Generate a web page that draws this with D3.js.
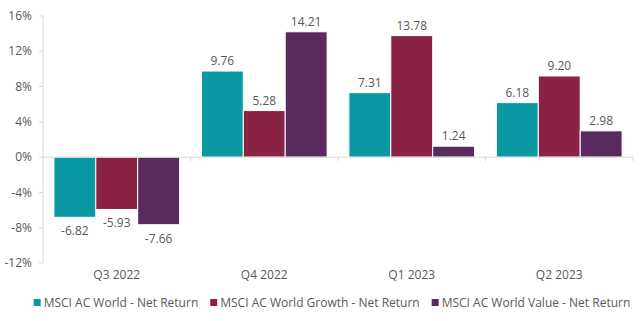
<!DOCTYPE html>
<html>
<head>
<meta charset="utf-8">
<script src="https://cdn.jsdelivr.net/npm/d3@7"></script>
<style>
  body { margin: 0; background: #fff; }
  text { font-family: "Open Sans", sans-serif; fill: #595959; }
</style>
</head>
<body>
<div id="chart"></div>
<script>
// data
const quarters = ["Q3 2022", "Q4 2022", "Q1 2023", "Q2 2023"];
const seriesNames = ["MSCI AC World - Net Return", "MSCI AC World Growth - Net Return", "MSCI AC World Value - Net Return"];
const worldValues = [-6.82, 9.76, 7.31, 6.18];
const growthValues = [-5.93, 5.28, 13.78, 9.20];
const valueValues = [-7.66, 14.21, 1.24, 2.98];
const yTicks = [-12, -8, -4, 0, 4, 8, 12, 16];

const allSeries = [worldValues, growthValues, valueValues];
const colors = ["#0a99a2", "#8a2244", "#582a5e"];

const W = 640, H = 321;
const margin = {top: 16, right: 7, bottom: 58, left: 43};
const width = W - margin.left - margin.right,
      height = H - margin.top - margin.bottom;

const svg = d3.select("#chart").append("svg")
    .attr("width", W).attr("height", H);
const g = svg.append("g")
    .attr("transform", `translate(${margin.left},${margin.top})`);

// scales
const x = d3.scaleBand().domain(quarters).range([0, width]).paddingInner(0).paddingOuter(0);
const xs = d3.scaleBand().domain(d3.range(3)).range([0, x.bandwidth()]).paddingInner(0).paddingOuter(0.26);
const y = d3.scaleLinear().domain([-12, 16]).range([height, 0]);

// y axis line + labels
g.append("line")
  .attr("x1", 0).attr("x2", 0).attr("y1", y(16)).attr("y2", y(-12))
  .attr("stroke", "#d9d9d9");
g.selectAll(".ytick").data(yTicks).join("line")
  .attr("x1", -4).attr("x2", 0)
  .attr("y1", d => y(d)).attr("y2", d => y(d))
  .attr("stroke", "#d9d9d9");
g.selectAll(".ylab").data(yTicks).join("text")
  .attr("x", -11).attr("y", d => y(d))
  .attr("dy", "0.35em")
  .attr("text-anchor", "end")
  .style("font-size", "12px")
  .text(d => d + "%");

// bars
quarters.forEach((q, qi) => {
  allSeries.forEach((s, si) => {
    const v = s[qi];
    const bx = x(q) + xs(si);
    g.append("rect")
      .attr("x", bx).attr("width", xs.bandwidth())
      .attr("y", y(Math.max(0, v)))
      .attr("height", Math.abs(y(v) - y(0)))
      .attr("fill", colors[si])
      .attr("stroke", "#fff").attr("stroke-width", 1);
    g.append("text")
      .attr("x", bx + xs.bandwidth() / 2)
      .attr("y", v >= 0 ? y(v) - 6 : y(v) + 18)
      .attr("text-anchor", "middle")
      .style("font-size", "12px")
      .text(v.toFixed(2));
  });
});

// zero line with category ticks
g.append("line")
  .attr("x1", 0).attr("x2", width).attr("y1", y(0)).attr("y2", y(0))
  .attr("stroke", "#d9d9d9");
g.selectAll(".xtick").data(quarters.slice(1).concat(["end"])).join("line")
  .attr("x1", (d, i) => x.step() * (i + 1)).attr("x2", (d, i) => x.step() * (i + 1))
  .attr("y1", y(0)).attr("y2", y(0) + 4)
  .attr("stroke", "#d9d9d9");

// category labels
g.selectAll(".xlab").data(quarters).join("text")
  .attr("x", d => x(d) + x.bandwidth() / 2)
  .attr("y", height + 12)
  .attr("dy", "0.35em")
  .attr("text-anchor", "middle")
  .style("font-size", "12px")
  .text(d => d);

// legend
const legend = svg.append("g");
let lx = 0;
seriesNames.forEach((name, i) => {
  const item = legend.append("g").attr("transform", `translate(${lx},0)`);
  item.append("rect").attr("x", 0).attr("y", -4).attr("width", 7).attr("height", 7).attr("fill", colors[i]);
  const t = item.append("text").attr("x", 10).attr("y", 0).attr("dy", "0.35em")
    .style("font-size", "12px").text(name);
  lx += 10 + t.node().getComputedTextLength() + 12;
});
const lw = lx - 12;
legend.attr("transform", `translate(${(W - lw) / 2 + 12},303)`);
</script>
</body>
</html>
